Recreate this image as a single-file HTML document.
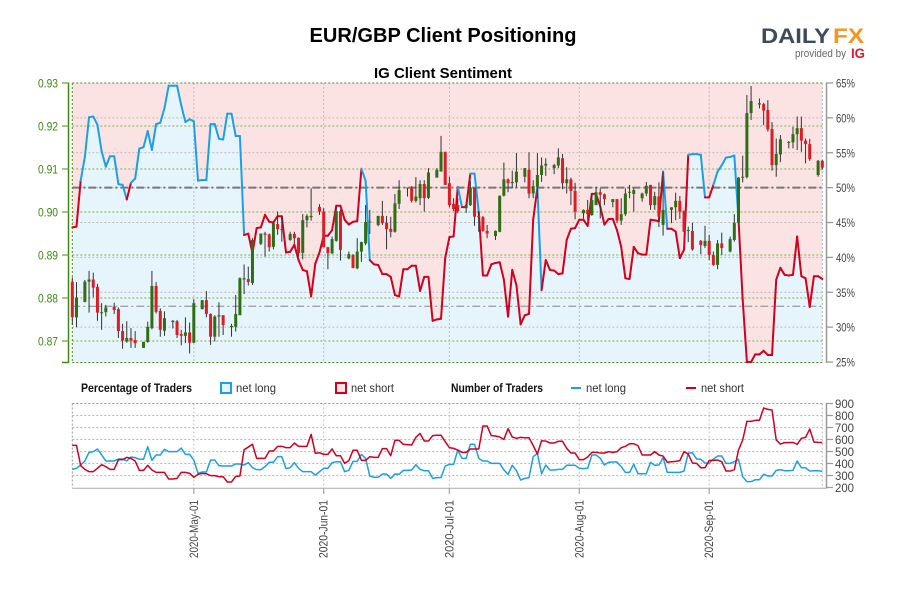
<!DOCTYPE html>
<html lang="en">
<head>
<meta charset="utf-8">
<title>EUR/GBP Client Positioning</title>
<style>
html,body{margin:0;padding:0;background:#fff;}
svg{display:block;}
text{font-family:"Liberation Sans Narrow","Liberation Sans",sans-serif;}
.wide{font-family:"Liberation Sans",sans-serif;}
</style>
</head>
<body>
<svg id="chart" xmlns="http://www.w3.org/2000/svg" width="900" height="600" viewBox="0 0 900 600">
  <rect x="0" y="0" width="900" height="600" fill="#fff"/>
  <text class="wide" x="443" y="42" text-anchor="middle" font-size="20" font-weight="bold" fill="#000" textLength="267" lengthAdjust="spacingAndGlyphs">EUR/GBP Client Positioning</text>
  <text class="wide" x="443" y="78" text-anchor="middle" font-size="15" font-weight="bold" fill="#000" textLength="138" lengthAdjust="spacingAndGlyphs">IG Client Sentiment</text>

  <g>
    <text class="wide" x="761" y="43" font-size="21" font-weight="bold" fill="#3f4a5a" textLength="69" lengthAdjust="spacingAndGlyphs">DAILY</text>
    <text class="wide" x="833" y="43" font-size="21" font-weight="bold" fill="#f7941d" textLength="31" lengthAdjust="spacingAndGlyphs">FX</text>
    <text class="wide" x="795" y="57" font-size="11" fill="#666" textLength="51" lengthAdjust="spacingAndGlyphs">provided by</text>
    <text class="wide" x="851" y="58" font-size="14" font-weight="bold" fill="#e0182d" textLength="14" lengthAdjust="spacingAndGlyphs">IG</text>
  </g>

  <g id="sentiment-plot"></g>
  <g id="count-plot"></g>

  <g font-size="12">
    <text x="81" y="392" font-weight="bold" fill="#111" textLength="111" lengthAdjust="spacingAndGlyphs">Percentage of Traders</text>
    <rect x="221" y="383" width="10" height="10" fill="#e6f4fc" stroke="#1c9fe4" stroke-width="2"/>
    <text x="236" y="392" fill="#333" textLength="40" lengthAdjust="spacingAndGlyphs">net long</text>
    <rect x="336" y="383" width="10" height="10" fill="#fbe3e4" stroke="#d1001f" stroke-width="2"/>
    <text x="351" y="392" fill="#333" textLength="43" lengthAdjust="spacingAndGlyphs">net short</text>
    <text x="451" y="392" font-weight="bold" fill="#111" textLength="92" lengthAdjust="spacingAndGlyphs">Number of Traders</text>
    <line x1="571" y1="388" x2="581" y2="388" stroke="#1c9fe4" stroke-width="2"/>
    <text x="586" y="392" fill="#333" textLength="40" lengthAdjust="spacingAndGlyphs">net long</text>
    <line x1="686" y1="388" x2="696" y2="388" stroke="#d1001f" stroke-width="2"/>
    <text x="701" y="392" fill="#333" textLength="43" lengthAdjust="spacingAndGlyphs">net short</text>
  </g>
</svg>

<script>
// ---- data ----
const startDate = "2020-04-02";
const dateTickLabels = ["2020-May-01","2020-Jun-01","2020-Jul-01","2020-Aug-01","2020-Sep-01"];
const dateTickDays = [29,60,90,121,152];
const priceTicks = [0.87,0.88,0.89,0.90,0.91,0.92,0.93];
const priceTickLabels = ["0.87","0.88","0.89","0.90","0.91","0.92","0.93"];
const pctTicks = [25,30,35,40,45,50,55,60,65];
const pctTickLabels = ["25%","30%","35%","40%","45%","50%","55%","60%","65%"];
const countTicks = [200,300,400,500,600,700,800,900];
const countTickLabels = ["200","300","400","500","600","700","800","900"];
const neutralPct = 50;
const referencePct = 33;

// OHLC for each trading day (Saturdays have no candle)
const opens = [
.8838,.8755,
.8791,.8838,.8843,.8826,.8765,.8767,
.8780,.8774,.8723,.8699,.8707,.8702,
.8684,.8698,.8730,.8828,.8770,.8724,
.8744,.8746,.8716,.8712,.8720,.8696,
.8774,.8795,.8763,.8710,.8757,.8760,
.8732,.8733,.8760,.8843,.8844,.8835,
.8926,.8950,.8948,.8919,.8972,.8958,
.8935,.8949,.8940,.8905,.8981,.8988,
.9012,.9001,.8918,.8904,.8933,.9002,
.8892,.8900,.8869,.8908,.8927,.8976,
.8970,.8991,.8975,.8961,.8954,.9019,
.9055,.9057,.9026,.9032,.9065,.9033,
.9080,.9094,.9140,.9067,.9019,.9016,
.9009,.9016,.9057,.8991,.8988,.8956,
.8944,.8954,.9038,.9076,.9067,.9069,
.9082,.9098,.9043,.9059,.9086,.9108,
.9102,.9108,.9125,.9067,.9076,.9049,
.8997,.9005,.8993,.9016,.9046,.9041,
.9023,.9030,.8980,.8995,.9046,.9042,
.9032,.9043,.9063,.9016,.9036,.8970,
.9005,.9011,.9026,.9003,.8956,.8956,
.8933,.8921,.8933,.8900,.8877,.8927,
.8908,.8935,.8975,.9080,.9081,.9230,
.9250,.9251,.9237,.9193,.9109,.9134,
.9161,.9162,.9181,.9195,.9166,.9158,
.9086,.9119];
const highs = [
.8848,.8837,
.8842,.8863,.8859,.8833,.8788,.8784,
.8789,.8778,.8740,.8746,.8730,.8723,
.8698,.8745,.8863,.8837,.8776,.8769,
.8749,.8749,.8726,.8755,.8743,.8797,
.8795,.8816,.8764,.8760,.8790,.8760,
.8740,.8807,.8848,.8878,.8873,.8939,
.8950,.8954,.8950,.8975,.9001,.8991,
.8954,.8954,.8941,.8995,.8995,.9055,
.9018,.9009,.8919,.8943,.9011,.9006,
.8908,.8902,.8939,.8931,.9016,.9005,
.8991,.9026,.8991,.8989,.9042,.9074,
.9057,.9060,.9081,.9074,.9074,.9102,
.9102,.9177,.9140,.9082,.9032,.9032,
.9019,.9073,.9057,.9001,.8991,.8970,
.8957,.9038,.9115,.9078,.9096,.9137,
.9102,.9139,.9074,.9137,.9127,.9125,
.9112,.9148,.9135,.9104,.9080,.9068,
.9006,.9028,.9043,.9059,.9055,.9043,
.9030,.9030,.9032,.9055,.9063,.9055,
.9045,.9070,.9063,.9047,.9069,.9094,
.9011,.9045,.9037,.9003,.8966,.8975,
.8935,.8968,.8947,.8908,.8935,.8952,
.8943,.8995,.9081,.9131,.9272,.9293,
.9264,.9254,.9260,.9209,.9171,.9179,
.9165,.9198,.9222,.9222,.9171,.9170,
.9121,.9121];
const lows = [
.8737,.8732,
.8790,.8766,.8802,.8747,.8726,.8757,
.8763,.8707,.8682,.8696,.8684,.8684,
.8684,.8696,.8727,.8764,.8710,.8712,
.8729,.8707,.8690,.8695,.8671,.8695,
.8774,.8755,.8691,.8699,.8710,.8714,
.8710,.8722,.8760,.8809,.8829,.8830,
.8923,.8896,.8908,.8913,.8947,.8931,
.8933,.8926,.8896,.8890,.8964,.8980,
.8993,.8918,.8867,.8902,.8931,.8887,
.8890,.8869,.8867,.8884,.8923,.8949,
.8967,.8970,.8913,.8941,.8952,.9007,
.9036,.9022,.9022,.9016,.9001,.9030,
.9080,.9094,.9063,.9011,.9002,.8997,
.8998,.9014,.8968,.8954,.8954,.8939,
.8935,.8953,.9036,.9046,.9055,.9057,
.9069,.9032,.9032,.9032,.9070,.9084,
.9088,.9102,.9053,.9043,.9016,.8983,
.8985,.8981,.8991,.9016,.8985,.9016,
.9011,.8974,.8970,.8991,.9032,.9001,
.9024,.9037,.9005,.9005,.8965,.8945,
.8974,.8981,.8984,.8953,.8930,.8910,
.8902,.8916,.8888,.8875,.8867,.8900,
.8906,.8931,.8974,.9069,.9078,.9214,
.9241,.9202,.9187,.9096,.9082,.9116,
.9148,.9148,.9144,.9140,.9113,.9119,
.9082,.9098];
const closes = [
.8755,.8801,
.8838,.8843,.8824,.8766,.8767,.8778,
.8772,.8723,.8701,.8707,.8701,.8695,
.8698,.8733,.8828,.8768,.8726,.8753,
.8747,.8714,.8712,.8720,.8696,.8788,
.8795,.8763,.8710,.8757,.8760,.8737,
.8735,.8763,.8846,.8846,.8837,.8935,
.8950,.8947,.8918,.8974,.8960,.8960,
.8949,.8939,.8904,.8981,.8991,.8991,
.9001,.8918,.8904,.8937,.9002,.8912,
.8902,.8870,.8908,.8930,.8977,.8978,
.8991,.8974,.8960,.8954,.9020,.9051,
.9057,.9026,.9036,.9065,.9032,.9092,
.9098,.9140,.9063,.9016,.9007,.9002,
.9016,.9057,.8989,.8988,.8956,.8950,
.8956,.9038,.9076,.9067,.9070,.9094,
.9102,.9043,.9060,.9086,.9108,.9112,
.9109,.9127,.9067,.9076,.9049,.9001,
.9005,.8995,.9028,.9046,.9040,.9030,
.9030,.8980,.8995,.9043,.9047,.9051,
.9043,.9061,.9016,.9037,.8989,.9005,
.9011,.9026,.9001,.8954,.8958,.8913,
.8923,.8933,.8900,.8877,.8927,.8916,
.8937,.8975,.9080,.9082,.9230,.9258,
.9253,.9236,.9192,.9109,.9135,.9169,
.9163,.9181,.9195,.9166,.9158,.9123,
.9119,.9103];

// Percent of traders net long, one value per calendar day
const pctNetLong = [
44.3,44.4,51.0,54.4,60.1,60.2,59.0,55.2,53.0,54.5,54.5,50.5,50.4,48.3,50.7,51.3,55.6,55.8,58.1,55.4,
59.1,59.3,61.4,64.6,64.6,64.6,61.8,59.4,59.8,59.5,51.0,51.1,51.1,59.1,59.1,57.0,56.9,60.6,60.6,57.4,
57.4,43.2,43.4,40.6,44.2,44.3,46.1,45.1,45.0,45.9,45.9,40.7,40.8,41.8,39.6,38.2,38.0,34.4,39.1,40.7,
43.1,43.1,43.9,47.4,47.4,45.4,44.7,45.1,45.2,52.7,51.0,39.6,39.0,38.9,37.6,37.6,37.2,34.6,34.4,38.3,
38.3,38.8,38.8,35.2,37.2,37.2,30.9,31.1,31.2,39.9,42.9,43.0,50.1,47.2,47.2,52.0,52.0,46.5,37.4,37.4,
39.0,39.2,39.3,36.8,31.5,38.2,36.0,30.4,31.7,31.9,45.4,50.0,35.3,39.6,38.2,38.1,37.6,37.7,42.5,44.1,
44.2,45.4,45.4,44.5,49.1,49.1,47.3,44.7,45.5,45.5,43.9,41.5,37.0,36.9,41.5,40.6,40.4,40.4,45.4,45.3,
45.2,52.3,44.1,44.1,43.7,39.9,41.1,54.7,54.8,54.8,54.7,48.6,48.6,50.4,52.3,53.2,54.3,54.4,54.6,45.4,
33.9,25.0,25.0,26.1,26.1,26.6,26.0,26.0,36.8,38.5,37.5,37.4,37.5,43.0,37.3,37.0,32.9,37.3,37.3,36.9];

// Number of traders, one value per calendar day
const netLongCounts = [
351,360,387,421,493,499,521,471,421,421,421,437,437,421,454,449,435,435,540,426,
471,471,518,499,499,499,529,476,476,429,318,329,329,429,429,382,379,379,379,396,
396,387,407,365,349,349,374,410,410,457,457,357,365,407,360,332,332,332,304,332,
360,360,407,415,415,332,343,418,418,476,443,296,285,285,312,312,276,312,310,343,
343,346,390,351,340,340,276,282,282,379,393,393,512,443,443,560,560,443,421,421,
401,401,401,346,310,385,340,262,276,282,457,485,315,387,346,346,351,351,385,385,
385,360,357,360,471,471,443,387,410,412,412,374,326,326,393,315,315,315,410,385,
387,449,326,326,326,326,337,487,490,437,435,404,401,437,462,462,401,401,415,435,
290,249,249,265,265,310,296,296,343,349,340,340,343,421,365,365,337,340,340,335];
const netShortCounts = [
551,551,382,351,332,332,360,390,374,351,351,432,432,451,443,421,343,343,385,346,
326,326,326,271,271,276,326,326,318,285,310,318,315,299,299,290,290,246,246,293,
296,515,537,560,443,443,443,504,504,543,543,532,532,571,543,543,543,643,485,490,
476,476,521,465,465,401,424,510,510,426,426,457,451,451,524,524,465,593,593,560,
557,554,618,651,587,587,632,635,635,582,532,526,512,493,493,521,521,521,712,712,
632,629,621,601,690,621,610,618,615,615,549,479,590,587,571,571,585,585,526,487,
487,432,432,454,493,493,487,487,499,493,499,532,543,565,565,549,471,471,471,499,
471,462,410,415,418,424,499,479,404,401,365,365,426,426,429,415,337,337,349,512,
596,751,751,760,760,863,851,846,596,562,574,574,576,560,610,618,687,579,576,574];

// ---- axes ----
const xAt = d => 72.3 + 4.19 * d;
const priceY = p => 341 - (p - 0.87) * 4300;
const pctY = p => 83 + (65 - p) * 6.975;
const countY = v => 487.5 - (v - 200) * 0.12;

const NS = "http://www.w3.org/2000/svg";
function make(parent, tag, attrs, txt) {
  const el = document.createElementNS(NS, tag);
  for (const k in attrs) el.setAttribute(k, attrs[k]);
  if (txt !== undefined) el.textContent = txt;
  parent.appendChild(el);
  return el;
}
const top1 = document.getElementById("sentiment-plot");
const bot = document.getElementById("count-plot");
const X0 = xAt(0), X1 = xAt(179);

// ---- sentiment panel backgrounds ----
{
  const el = make(top1, "rect", {x:X0, y:83, width:X1-X0, height:279.5, fill:"#fbe3e4"});
  
  
  let d = "M" + X0 + " 362.5";
  pctNetLong.forEach((v,i)=>{ d += "L" + xAt(i).toFixed(2) + " " + pctY(v).toFixed(2); });
  d += "L" + X1 + " 362.5Z";
  const a = make(top1, "path", {d:d, fill:"#e6f4fc"});
  
  
}

// ---- grid ----
pctTicks.forEach(t=>{
  if (t===25||t===65) return;
  const el = make(top1, "line", {x1:X0, x2:X1, y1:pctY(t), y2:pctY(t), stroke:"#c4b8b8", "stroke-width":1, "stroke-dasharray":"2 2"});
  
  
});
priceTicks.forEach(t=>{
  if (t===0.93) return;
  const el = make(top1, "line", {x1:X0, x2:X1, y1:priceY(t), y2:priceY(t), stroke:"#a3c483", "stroke-width":1.5, "stroke-dasharray":"2 2"});
  
  
});
dateTickDays.forEach(t=>{
  const el = make(top1, "line", {x1:xAt(t), x2:xAt(t), y1:83, y2:362, stroke:"#bdbdbd", "stroke-width":1, "stroke-dasharray":"2 2"});
  
  
});
[83,362.5].forEach(y=>{
  const el = make(top1, "line", {x1:X0, x2:X1, y1:y, y2:y, stroke:"#4d8a1c", "stroke-width":1, "stroke-dasharray":"2 2"});
  
  
});
{
  const l = make(top1, "line", {x1:X0, x2:X0, y1:83, y2:362.5, stroke:"#4d8a1c", "stroke-width":1, "stroke-dasharray":"2 2"});
  
  
  const r = make(top1, "line", {x1:X1, x2:X1, y1:83, y2:362.5, stroke:"#b5b5b5", "stroke-width":1, "stroke-dasharray":"2 2"});
  
  
  const n = make(top1, "line", {x1:X0, x2:X1, y1:pctY(neutralPct), y2:pctY(neutralPct), stroke:"#777", "stroke-width":2, "stroke-dasharray":"8 3 2 3"});
  
  
  const c = make(top1, "line", {x1:X0, x2:X1, y1:pctY(referencePct), y2:pctY(referencePct), stroke:"#888", "stroke-width":1, "stroke-dasharray":"8 3 2 3"});
  
  
}

// ---- sentiment line: each segment takes the colour of its starting point ----
for (let i = 0; i < pctNetLong.length - 1; i++) {
  const col = pctNetLong[i] >= neutralPct ? "#1c9fe4" : "#d1001f";
  const seg = make(top1, "line", {x1:xAt(i), y1:pctY(pctNetLong[i]), x2:xAt(i+1), y2:pctY(pctNetLong[i+1]), stroke:col, "stroke-width":2, "stroke-linecap":"round"});
  
  
}

// ---- candles: Saturdays are skipped on the date axis ----
{
  let day = 0;
  const first = new Date(startDate + "T12:00:00Z").getUTCDay();
  opens.forEach((o,n)=>{
    while ((first + day) % 7 === 6) day++;
    const x = xAt(day);
    const c = closes[n];
    const up = c >= o;
    const col = up ? "#2f6e14" : "#dd1c26";
    const w = make(top1, "line", {x1:x, x2:x, y1:priceY(highs[n]), y2:priceY(lows[n]), stroke:"#333", "stroke-width":1});
    
    
    const t = priceY(Math.max(o,c)), b = priceY(Math.min(o,c));
    const r = make(top1, "rect", {x:x-1.5, y:t, width:3, height:Math.max(b-t,1), fill:col});
    
    
    day++;
  });
}

// ---- sentiment axes ----
{
  const la = make(top1, "line", {x1:68.5, x2:68.5, y1:82.5, y2:363, stroke:"#3c8a10", "stroke-width":1.5});
  
  
  const ra = make(top1, "line", {x1:826.5, x2:826.5, y1:82.5, y2:363, stroke:"#999", "stroke-width":1.5});
  
  
  const bt = make(top1, "line", {x1:62, x2:68.5, y1:362.5, y2:362.5, stroke:"#3c8a10", "stroke-width":1.5});
  
  
}
priceTicks.forEach((t,i)=>{
  const k = make(top1, "line", {x1:62, x2:68.5, y1:priceY(t), y2:priceY(t), stroke:"#6fa845", "stroke-width":1.3});
  
  
  const l = make(top1, "text", {x:58, y:priceY(t)+4.5, "text-anchor":"end", "font-size":12, fill:"#3c8a10", textLength:20, lengthAdjust:"spacingAndGlyphs"}, priceTickLabels[i]);
  
  
});
pctTicks.forEach((t,i)=>{
  const k = make(top1, "line", {x1:826.5, x2:833, y1:pctY(t), y2:pctY(t), stroke:"#999", "stroke-width":1.3});
  
  
  const l = make(top1, "text", {x:836, y:pctY(t)+4.5, "font-size":12, fill:"#444", textLength:19, lengthAdjust:"spacingAndGlyphs"}, pctTickLabels[i]);
  
  
});

// ---- count panel ----
countTicks.forEach(t=>{
  if (t===200) return;
  const el = make(bot, "line", {x1:X0, x2:X1, y1:countY(t), y2:countY(t), stroke:"#b8b8b8", "stroke-width":1, "stroke-dasharray":"2 2"});
  
  
});
dateTickDays.forEach((t,i)=>{
  const g = make(bot, "line", {x1:xAt(t), x2:xAt(t), y1:403.5, y2:488, stroke:"#c2c2c2", "stroke-width":1, "stroke-dasharray":"2 2"});
  
  
  const k = make(bot, "line", {x1:xAt(t), x2:xAt(t), y1:488, y2:494, stroke:"#aaa", "stroke-width":1.3});
  
  
  const x = xAt(t)+4;
  const l = make(bot, "text", {x:x, y:500, transform:"rotate(-90 "+x+" 500)", "text-anchor":"end", "font-size":12, fill:"#444", textLength:58, lengthAdjust:"spacingAndGlyphs"}, dateTickLabels[i]);
  
  
});
{
  const l = make(bot, "line", {x1:X0, x2:X0, y1:403.5, y2:488, stroke:"#999", "stroke-width":1, "stroke-dasharray":"2 2"});
  
  
  const r = make(bot, "line", {x1:X1, x2:X1, y1:403.5, y2:488, stroke:"#bbb", "stroke-width":1, "stroke-dasharray":"2 2"});
  
  
  const t = make(bot, "line", {x1:X0, x2:X1, y1:403.5, y2:403.5, stroke:"#999", "stroke-width":1, "stroke-dasharray":"2 2"});
  
  
  const b = make(bot, "line", {x1:X0, x2:826.5, y1:488.3, y2:488.3, stroke:"#aaa", "stroke-width":1});
  
  
  const a = make(bot, "line", {x1:826.5, x2:826.5, y1:403, y2:488.5, stroke:"#999", "stroke-width":1.5});
  
  
}
countTicks.forEach((t,i)=>{
  const k = make(bot, "line", {x1:826.5, x2:833, y1:countY(t), y2:countY(t), stroke:"#999", "stroke-width":1.2});
  
  
  const l = make(bot, "text", {x:835, y:countY(t)+4.5, "font-size":12, fill:"#444", textLength:19, lengthAdjust:"spacingAndGlyphs"}, countTickLabels[i]);
  
  
});
{
  const pts = arr => arr.map((v,i)=>xAt(i).toFixed(2)+","+countY(v).toFixed(2)).join(" ");
  const lng = make(bot, "polyline", {points:pts(netLongCounts), fill:"none", stroke:"#1c9fe4", "stroke-width":1.5, "stroke-linejoin":"round"});
  
  
  const sht = make(bot, "polyline", {points:pts(netShortCounts), fill:"none", stroke:"#d1001f", "stroke-width":1.5, "stroke-linejoin":"round"});
  
  
}
</script>
</body>
</html>
